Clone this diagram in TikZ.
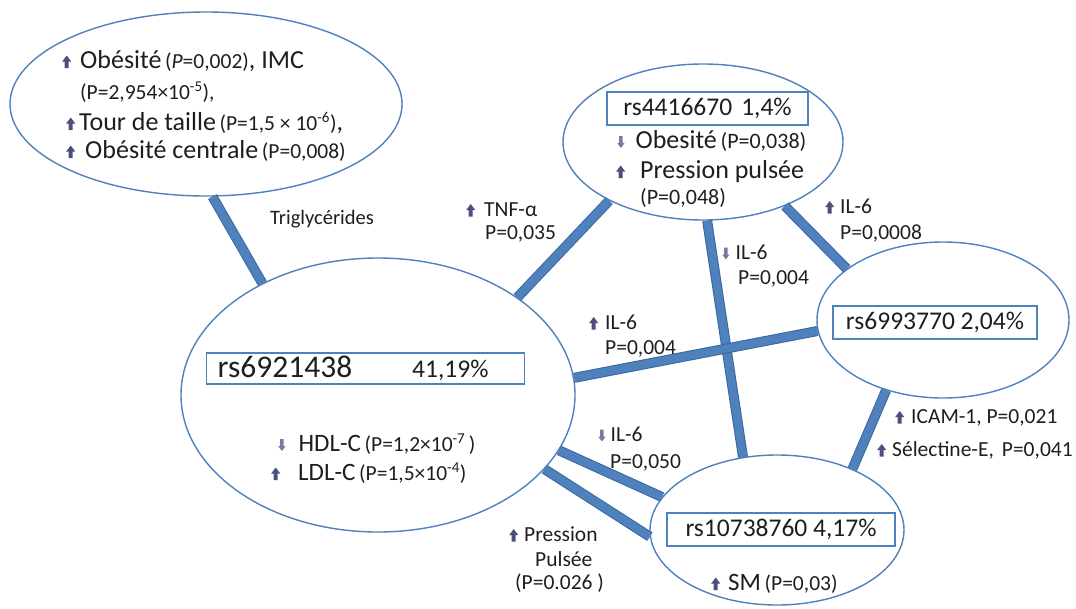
\documentclass[tikz,border=0pt]{standalone}
\usepackage{fontspec}
\setmainfont{Carlito}
\usetikzlibrary{shapes.geometric}

\definecolor{ellblue}{HTML}{4F81BD}
\definecolor{barfill}{HTML}{4F81BD}
\definecolor{barline}{HTML}{3A679E}
\definecolor{arrcol}{HTML}{4B4F80}
\definecolor{txtcol}{HTML}{1E1E1E}

\newcommand{\uparr}{\tikz[baseline=0pt,x=1pt,y=1pt]\fill[arrcol] (-2,0) -- (-2,6.5) -- (-4.5,6.5) -- (0,12.5) -- (4.5,6.5) -- (2,6.5) -- (2,0) -- cycle;}
\newcommand{\dnarr}{\tikz[baseline=0pt,x=1pt,y=1pt]\fill[arrcol!75] (-1.7,12) -- (-1.7,5) -- (-3.7,5) -- (0,0) -- (3.7,5) -- (1.7,5) -- (1.7,12) -- cycle;}
\newcommand{\pvfont}{\fontsize{21.5}{24}\selectfont}

\begin{document}
\begin{tikzpicture}[x=1pt, y=-1pt,
    ell/.style={ellipse, draw=ellblue, line width=1.4pt, fill=white, inner sep=0pt},
    idbox/.style={draw=ellblue, line width=1.4pt, fill=white, inner sep=0pt, text=txtcol, font=\fontsize{25.5}{30}\selectfont},
    bar/.style={draw=barline, line width=1pt, double=barfill, double distance=8pt},
    txt/.style={anchor=base west, inner sep=0pt, text=txtcol, font=\fontsize{26}{30}\selectfont},
    lab/.style={txt, font=\fontsize{21.5}{25}\selectfont}]
    \useasboundingbox (0,0) rectangle (1076,608);

    % Nodes
    \node at (206, 104) (ob) [ell, minimum width=392pt, minimum height=184pt] {};
    \node at (703, 142) (r44) [ell, minimum width=280pt, minimum height=156pt] {};
    \node at (943, 320) (r69) [ell, minimum width=252pt, minimum height=156pt] {};
    \node at (378, 395) (big) [ell, minimum width=394pt, minimum height=274pt] {};
    \node at (777, 530) (r107) [ell, minimum width=254pt, minimum height=150pt] {};

    % Bars
    \draw[bar] (ob.274.4) -- (big.136);
    \draw[bar] (big.35.2) -- (r44.212.7);
    \draw[bar] (r44.273.5) -- (r107.115.6);
    \draw[bar] (r44.322.9) -- (r69.152);
    \draw[bar] (big.5.3) -- (r69.185.9);
    \draw[bar] (big.343) -- (r107.164.5);
    \draw[bar] (big.336.1) -- (r107.183.1);
    \draw[bar] (r69.231.1) -- (r107.39.7);

    % Boxes
    \node at (206, 368.5) (bigbox) [idbox, anchor=west, minimum width=318pt, minimum height=31pt, inner xsep=11pt, text width=296pt, align=left]
        {\fontsize{31.5}{34}\selectfont rs6921438\hspace{60pt}{\fontsize{25.5}{30}\selectfont 41,19\%}};
    \node at (707.5, 108.5) (r44box) [idbox, minimum width=201pt, minimum height=33pt] {rs4416670\hspace{9pt}1,4\%};
    \node at (935, 322.5) (r69box) [idbox, minimum width=204pt, minimum height=33pt] {rs6993770 2,04\%};
    \node at (781, 529.5) (r107box) [idbox, minimum width=228pt, minimum height=33pt] {rs10738760 4,17\%};

    % Ellipse texts
    \node at (62, 68) (ob1) [txt] {\uparr\hspace{9pt}Obésité{\pvfont\,(\textit{P}=0,002)}, IMC};
    \node at (80, 99) (ob2) [txt, font=\pvfont] {(P=2,954×10\textsuperscript{-5}),};
    \node at (66, 130) (ob3) [txt] {\uparr\hspace{4pt}Tour de taille{\pvfont\,(P=1,5 × 10\textsuperscript{-6})},};
    \node at (66, 158) (ob4) [txt] {\uparr\hspace{10pt}Obésité centrale{\pvfont\,(P=0,008)}};

    \node at (617, 148) (r44a) [txt] {\dnarr\hspace{11pt}Obesité{\fontsize{22}{25}\selectfont\,(P=0,038)}};
    \node at (616, 178) (r44b) [txt] {\uparr\hspace{15pt}Pression pulsée};
    \node at (640, 204) (r44c) [txt, font=\fontsize{22}{25}\selectfont] {(P=0,048)};

    \node at (278, 451) (big1) [txt, font=\fontsize{25}{28}\selectfont] {\dnarr\hspace{13pt}HDL-C{\pvfont\,(P=1,2×10\textsuperscript{-7}\,)}};
    \node at (271, 480) (big2) [txt, font=\fontsize{25}{28}\selectfont] {\uparr\hspace{18pt}LDL-C{\pvfont\,(P=1,5×10\textsuperscript{-4})}};

    \node at (711, 590) (r107a) [txt, font=\fontsize{25}{28}\selectfont] {\uparr\hspace{8pt}SM{\fontsize{21.5}{24}\selectfont\,(P=0,03)}};

    % Labels
    \node at (270, 224.5) (trig) [lab, font=\fontsize{20.5}{24}\selectfont] {Triglycérides};
    \node at (466, 216.5) (tnf1) [lab] {\uparr\hspace{9pt}TNF-α};
    \node at (485, 239.5) (tnf2) [lab] {P=0,035};
    \node at (722, 259.5) (il6a1) [lab] {\dnarr\hspace{6pt}IL-6};
    \node at (738, 284.5) (il6a2) [lab] {P=0,004};
    \node at (825, 213.5) (il6b1) [lab] {\uparr\hspace{6pt}IL-6};
    \node at (840, 239.5) (il6b2) [lab] {P=0,0008};
    \node at (589, 329.5) (il6c1) [lab] {\uparr\hspace{7pt}IL-6};
    \node at (605, 354.5) (il6c2) [lab] {P=0,004};
    \node at (598, 441.5) (il6d1) [lab] {\dnarr\hspace{5pt}IL-6};
    \node at (610, 468.5) (il6d2) [lab] {P=0,050};
    \node at (509, 541.5) (pp1) [lab] {\uparr\hspace{6pt}Pression};
    \node at (535, 566.5) (pp2) [lab] {Pulsée};
    \node at (515, 589.5) (pp3) [lab] {(P=0.026 )};
    \node at (895, 423.5) (icam) [lab] {\uparr\hspace{7pt}ICAM-1, P=0,021};
    \node at (877, 456.5) (sel) [lab] {\uparr\hspace{6pt}Sélectine-E,\hspace{8pt}P=0,041};
\end{tikzpicture}
\end{document}
